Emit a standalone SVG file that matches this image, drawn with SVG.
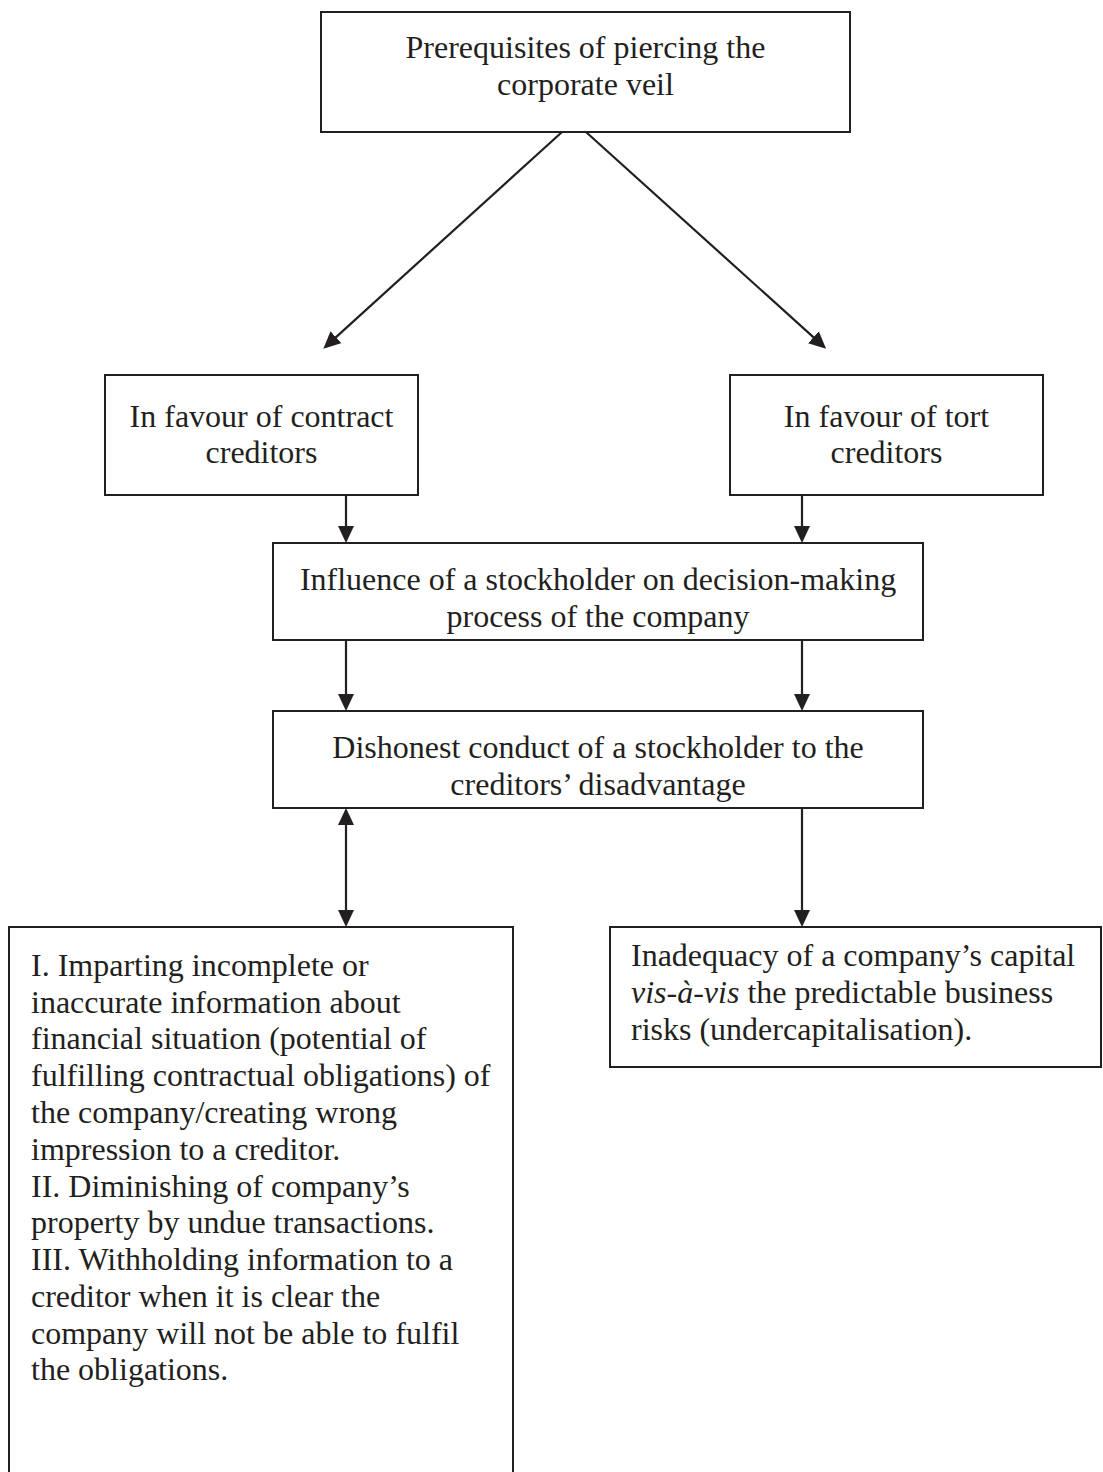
<svg xmlns="http://www.w3.org/2000/svg" width="1103" height="1472" viewBox="0 0 1103 1472">
<style>
.box{fill:#fff;stroke:#231f20;stroke-width:2}
.t{font-family:"Liberation Serif","Times New Roman",serif;font-size:32px;fill:#231f20}
.c{text-anchor:middle}
.conn{stroke:#231f20;stroke-width:2.2;fill:none}
</style>
<defs>
<marker id="ah" viewBox="0 0 17 16" refX="8" refY="8" markerWidth="17" markerHeight="16" markerUnits="userSpaceOnUse" orient="auto-start-reverse">
<path d="M0,0 L17,8 L0,16 z" fill="#231f20"/>
</marker>
</defs>
<rect width="1103" height="1472" fill="#fff"/>
<g id="connectors">
<line class="conn" x1="562" y1="132" x2="330" y2="342.6" marker-end="url(#ah)"/>
<line class="conn" x1="586" y1="132" x2="819.4" y2="342.6" marker-end="url(#ah)"/>
<line class="conn" x1="346" y1="495" x2="346" y2="534" marker-end="url(#ah)"/>
<line class="conn" x1="802" y1="495" x2="802" y2="534" marker-end="url(#ah)"/>
<line class="conn" x1="346" y1="640" x2="346" y2="702" marker-end="url(#ah)"/>
<line class="conn" x1="802" y1="640" x2="802" y2="702" marker-end="url(#ah)"/>
<line class="conn" x1="346" y1="817" x2="346" y2="918" marker-start="url(#ah)" marker-end="url(#ah)"/>
<line class="conn" x1="802" y1="808" x2="802" y2="918" marker-end="url(#ah)"/>
</g>
<g id="prerequisites">
<rect class="box" x="321" y="12" width="529" height="120"/>
<text class="t c" x="585.5" y="58">Prerequisites of piercing the</text>
<text class="t c" x="585.5" y="95">corporate veil</text>
</g>
<g id="contract">
<rect class="box" x="105" y="375" width="313" height="120"/>
<text class="t c" x="261.5" y="427">In favour of contract</text>
<text class="t c" x="261.5" y="463">creditors</text>
</g>
<g id="tort">
<rect class="box" x="730" y="375" width="313" height="120"/>
<text class="t c" x="886.5" y="427">In favour of tort</text>
<text class="t c" x="886.5" y="463">creditors</text>
</g>
<g id="influence">
<rect class="box" x="273" y="543" width="650" height="97"/>
<text class="t c" x="598" y="590">Influence of a stockholder on decision-making</text>
<text class="t c" x="598" y="627">process of the company</text>
</g>
<g id="dishonest">
<rect class="box" x="273" y="711" width="650" height="97"/>
<text class="t c" x="598" y="758">Dishonest conduct of a stockholder to the</text>
<text class="t c" x="598" y="795">creditors’ disadvantage</text>
</g>
<g id="conduct-list">
<rect class="box" x="9" y="927" width="504" height="570"/>
<text class="t" x="31" y="976">I. Imparting incomplete or</text>
<text class="t" x="31" y="1013">inaccurate information about</text>
<text class="t" x="31" y="1049">financial situation (potential of</text>
<text class="t" x="31" y="1086">fulfilling contractual obligations) of</text>
<text class="t" x="31" y="1123">the company/creating wrong</text>
<text class="t" x="31" y="1160">impression to a creditor.</text>
<text class="t" x="31" y="1197">II. Diminishing of company’s</text>
<text class="t" x="31" y="1233">property by undue transactions.</text>
<text class="t" x="31" y="1270">III. Withholding information to a</text>
<text class="t" x="31" y="1307">creditor when it is clear the</text>
<text class="t" x="31" y="1344">company will not be able to fulfil</text>
<text class="t" x="31" y="1380">the obligations.</text>
</g>
<g id="undercapitalisation">
<rect class="box" x="610" y="927" width="491" height="140"/>
<text class="t" x="631" y="966">Inadequacy of a company’s capital</text>
<text class="t" x="631" y="1003"><tspan font-style="italic">vis-à-vis</tspan> the predictable business</text>
<text class="t" x="631" y="1040">risks (undercapitalisation).</text>
</g>
</svg>
